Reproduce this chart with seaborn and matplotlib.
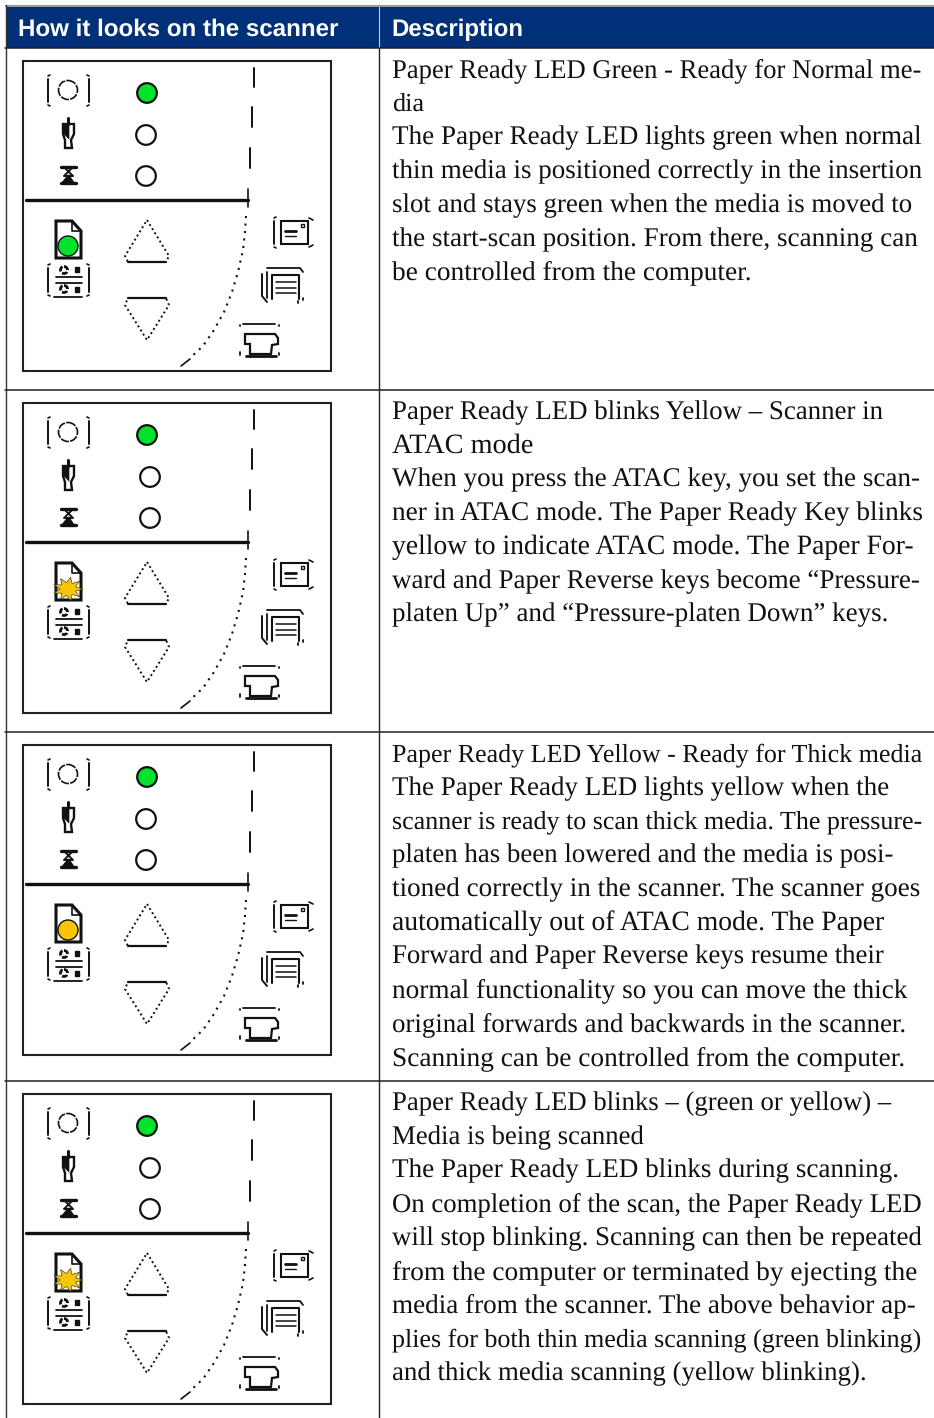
import matplotlib
matplotlib.use("Agg")
import matplotlib.pyplot as plt
import numpy as np
import pandas as pd
import seaborn as sns
from matplotlib.patches import Circle, Polygon, Rectangle

# table content
headers = ["How it looks on the scanner", "Description"]
row1_text = ["Paper Ready LED Green - Ready for Normal me-", "dia",
             "The Paper Ready LED lights green when normal",
             "thin media is positioned correctly in the insertion",
             "slot and stays green when the media is moved to",
             "the start-scan position. From there, scanning can",
             "be controlled from the computer."]
row2_text = ["Paper Ready LED blinks Yellow – Scanner in", "ATAC mode",
             "When you press the ATAC key, you set the scan-",
             "ner in ATAC mode. The Paper Ready Key blinks",
             "yellow to indicate ATAC mode. The Paper For-",
             "ward and Paper Reverse keys become “Pressure-",
             "platen Up” and “Pressure-platen Down” keys."]
row3_text = ["Paper Ready LED Yellow - Ready for Thick media",
             "The Paper Ready LED lights yellow when the",
             "scanner is ready to scan thick media. The pressure-",
             "platen has been lowered and the media is posi-",
             "tioned correctly in the scanner. The scanner goes",
             "automatically out of ATAC mode. The Paper",
             "Forward and Paper Reverse keys resume their",
             "normal functionality so you can move the thick",
             "original forwards and backwards in the scanner.",
             "Scanning can be controlled from the computer."]
row4_text = ["Paper Ready LED blinks – (green or yellow) –",
             "Media is being scanned",
             "The Paper Ready LED blinks during scanning.",
             "On completion of the scan, the Paper Ready LED",
             "will stop blinking. Scanning can then be repeated",
             "from the computer or terminated by ejecting the",
             "media from the scanner. The above behavior ap-",
             "plies for both thin media scanning (green blinking)",
             "and thick media scanning (yellow blinking)."]
rows_text = [row1_text, row2_text, row3_text, row4_text]
# state of the Paper Ready LED per row, and whether the middle LEDs are drawn blinking
paper_led = ["green", "blink", "yellow", "blink"]
blinking_row = [False, True, False, True]

NAVY = "#003078"
GREEN = "#00e32c"
YELLOW = "#f7c600"
LINE = "#111111"

# layout, in pixels
row_tops = [48, 390, 732, 1081]
panel_tops = [61, 403, 745, 1094]
# right end of each text line, the serif here runs wider than the original one
line_ends = [[921, 424, 919, 921, 911, 917, 751],
             [882, 533, 919, 921, 913, 919, 887],
             [921, 887, 920, 893, 918, 883, 882, 905, 905, 903],
             [890, 643, 898, 920, 921, 917, 914, 920, 866]]


def bracket(ax, x, y0, y1, side):
    ax.plot([x, x], [y0 + 3, y1 - 3], color=LINE, lw=1.4)
    ax.plot([x, x + 2 * side], [y0, y0 - 1], color=LINE, lw=1.2)
    ax.plot([x, x + 2 * side], [y1, y1 + 1], color=LINE, lw=1.2)


def burst(ax, cx, cy):
    angles = np.linspace(0, 2 * np.pi, 19)[:-1]
    radii = np.where(np.arange(18) % 2 == 0, 15, 8)
    pts = np.c_[cx + radii * np.cos(angles), cy + radii * np.sin(angles) * 0.8]
    ax.add_patch(Polygon(pts, closed=True, fc=YELLOW, ec="#222222", lw=0.4, zorder=4))


def draw_panel(ax, top, state, blinking):
    # everything below is relative to a panel frame at x=22
    d = top - 61
    Y = lambda v: v + d
    ax.add_patch(Rectangle((22.5, top), 308, 310, fc="white", ec="#222222", lw=1.5))

    # power icon
    ax.add_patch(Circle((68, Y(90)), 9.5, fc="none", ec=LINE, lw=1.2, ls=(0, (5, 0.8))))
    bracket(ax, 48, Y(76), Y(105), 1)
    bracket(ax, 89, Y(76), Y(105), -1)
    # plug icon
    ax.plot([68, 68], [Y(118), Y(124)], color=LINE, lw=2.2)
    ax.add_patch(Polygon([(63, Y(124)), (74, Y(124)), (74, Y(134)), (71, Y(140)), (72, Y(148)),
                          (65, Y(148)), (65, Y(140)), (63, Y(134))], closed=True,
                         fc="white", ec=LINE, lw=1.7))
    ax.add_patch(Polygon([(63, Y(124)), (69, Y(124)), (69, Y(139)), (64, Y(134))], closed=True,
                         fc=LINE, ec=LINE, lw=0.5))
    # hourglass icon
    ax.plot([61, 76], [Y(167), Y(167)], color=LINE, lw=2.4)
    ax.plot([61, 76], [Y(183), Y(183)], color=LINE, lw=2.4)
    ax.plot([64, 73, 64, 73], [Y(167), Y(176), Y(176), Y(167)], color=LINE, lw=1.4)
    ax.add_patch(Polygon([(68.5, Y(175)), (74, Y(183)), (62, Y(183))], closed=True, fc=LINE, ec=LINE, lw=1))

    # status LEDs
    dx = 4 if blinking else 0
    leds = pd.DataFrame({"x": [147, 146 + dx, 146 + dx], "y": [Y(93), Y(135), Y(176)],
                         "state": ["on", "off", "off"]})
    sns.scatterplot(data=leds, x="x", y="y", hue="state", palette={"on": GREEN, "off": "white"},
                    s=200, marker="o", edgecolor=LINE, linewidth=1.6, legend=False, zorder=3, ax=ax)

    # divider and the curved edge of the panel
    ax.plot([26, 248], [Y(200), Y(200)], color=LINE, lw=2.4)
    ax.plot([248, 248], [Y(189), Y(207)], color=LINE, lw=1.2)
    for x, y0, y1 in [(254, 68, 87), (252, 107, 127), (250, 148, 168)]:
        ax.plot([x, x], [Y(y0), Y(y1)], color=LINE, lw=1.4)
    curve_x = [246, 245, 243, 238, 232, 224, 214, 203, 190]
    curve_y = [216, 232, 250, 272, 292, 312, 330, 346, 358]
    ax.plot(curve_x, [Y(v) for v in curve_y], color=LINE, lw=1.5, ls=(0, (1, 2.6)))
    ax.plot([181, 190], [Y(366), Y(359)], color=LINE, lw=1.2)

    # paper forward / reverse keys
    ax.add_patch(Polygon([(147, Y(220)), (169, Y(256)), (166, Y(262)), (128, Y(262)), (125, Y(256))],
                         closed=True, fc="none", ec=LINE, lw=1.4, ls=(0, (1, 1.5))))
    ax.plot([128, 166], [Y(262), Y(262)], color=LINE, lw=1.6)
    ax.add_patch(Polygon([(128, Y(298)), (166, Y(298)), (169, Y(305)), (147, Y(340)), (125, Y(305))],
                         closed=True, fc="none", ec=LINE, lw=1.4, ls=(0, (1, 1.5))))
    ax.plot([128, 166], [Y(298), Y(298)], color=LINE, lw=1.6)

    # paper ready key
    ax.add_patch(Polygon([(56, Y(221)), (72, Y(221)), (81, Y(231)), (81, Y(258)), (56, Y(258))],
                         closed=True, fc="white", ec=LINE, lw=2.2))
    ax.plot([72, 72, 81], [Y(221), Y(231), Y(231)], color=LINE, lw=1.2)
    if state == "blink":
        burst(ax, 68, Y(247))
    else:
        led_color = GREEN if state == "green" else YELLOW
        ax.add_patch(Circle((68, Y(246)), 10, fc=led_color, ec=LINE, lw=1.0, zorder=4))

    # settings key
    bracket(ax, 48, Y(265), Y(295), 1)
    bracket(ax, 89, Y(265), Y(295), -1)
    ax.plot([56, 82], [Y(277), Y(277)], color=LINE, lw=1.3)
    ax.plot([56, 82], [Y(283), Y(283)], color=LINE, lw=1.3)
    ax.plot([54, 82], [Y(297), Y(297)], color=LINE, lw=1.3)
    ax.add_patch(Circle((64, Y(270)), 3.5, fc="none", ec=LINE, lw=2.0, ls=(0, (2, 0.7))))
    ax.add_patch(Circle((64, Y(289)), 3.5, fc="none", ec=LINE, lw=2.0, ls=(0, (2, 0.7))))
    ax.add_patch(Rectangle((75, Y(267)), 4, 5, fc=LINE, ec=LINE))
    ax.add_patch(Rectangle((75, Y(287)), 4, 5, fc=LINE, ec=LINE))

    # right hand icons
    ax.add_patch(Rectangle((281, Y(221)), 27, 23, fc="none", ec=LINE, lw=1.5))
    ax.plot([285, 296], [Y(231), Y(231)], color=LINE, lw=2.0)
    ax.plot([285, 296], [Y(236), Y(236)], color=LINE, lw=1.0)
    ax.add_patch(Rectangle((301, Y(224)), 3, 3, fc="none", ec=LINE, lw=1.0))
    bracket(ax, 274, Y(218), Y(247), 1)
    ax.plot([309, 313], [Y(218), Y(220)], color=LINE, lw=1.2)
    ax.plot([309, 313], [Y(247), Y(245)], color=LINE, lw=1.2)

    ax.plot([267, 300, 303], [Y(268), Y(268), Y(272)], color=LINE, lw=1.3)
    ax.plot([262, 262, 267], [Y(274), Y(296), Y(302)], color=LINE, lw=1.4)
    ax.plot([267, 267], [Y(272), Y(298)], color=LINE, lw=1.3)
    ax.plot([272, 272, 299, 299], [Y(299), Y(275), Y(275), Y(299)], color=LINE, lw=1.5)
    ax.plot([276, 296], [Y(282), Y(282)], color=LINE, lw=1.1)
    ax.plot([276, 296], [Y(288), Y(288)], color=LINE, lw=1.1)
    ax.plot([276, 296], [Y(293), Y(293)], color=LINE, lw=1.1)
    ax.plot([298, 298], [Y(301), Y(303)], color=LINE, lw=1.3)
    ax.plot([303, 303], [Y(298), Y(300)], color=LINE, lw=1.3)

    ax.plot([243, 275], [Y(324), Y(324)], color=LINE, lw=1.3)
    ax.add_patch(Polygon([(245, Y(334)), (275, Y(334)), (278, Y(338)), (278, Y(344)), (272, Y(345)),
                          (271, Y(354)), (250, Y(354)), (250, Y(344)), (245, Y(344))],
                         closed=True, fc="none", ec=LINE, lw=1.6))
    ax.plot([246, 276], [Y(356), Y(356)], color=LINE, lw=2.0)
    ax.plot([240, 240], [Y(352), Y(355)], color=LINE, lw=1.3)
    ax.plot([279, 279], [Y(353), Y(355)], color=LINE, lw=1.3)
    ax.plot([240, 240], [Y(325), Y(326)], color=LINE, lw=1.3)
    ax.plot([279, 279], [Y(325), Y(326)], color=LINE, lw=1.3)


def main():
    sns.set_theme(style="white")
    plt.rcParams["font.family"] = ["Liberation Serif", "DejaVu Sans"]
    # no hinting, so that the fitted font sizes scale smoothly
    plt.rcParams["text.hinting"] = "no_hinting"
    plt.rcParams["text.hinting_factor"] = 8
    fig = plt.figure(figsize=(9.34, 14.18), dpi=100)
    ax = fig.add_axes([0, 0, 1, 1])
    ax.set_xlim(0, 934)
    ax.set_ylim(1418, 0)
    ax.axis("off")

    # header band
    ax.add_patch(Rectangle((5, 5), 929, 1.5, fc="#9a9a9a", ec="none"))
    ax.add_patch(Rectangle((6, 6.5), 928, 41, fc=NAVY, ec="none"))
    ax.plot([379, 379], [6.5, 48], color="#c8d0e0", lw=0.8)
    ax.text(18, 36, headers[0], color="white", fontsize=17.4, fontweight="bold",
            family=["Liberation Sans"], va="baseline")
    ax.text(391, 36, headers[1], color="white", fontsize=17.3, fontweight="bold",
            family=["Liberation Sans"], va="baseline")

    # grid
    ax.plot([5.5, 5.5], [5, 1418], color="#333333", lw=1.0)
    ax.plot([379, 379], [48, 1418], color="#222222", lw=1.0)
    for y in row_tops:
        ax.plot([5, 934], [y, y], color="#222222", lw=1.1)

    renderer = fig.canvas.get_renderer()
    for r, (top, panel, lines) in enumerate(zip(row_tops, panel_tops, rows_text)):
        draw_panel(ax, panel, paper_led[r], blinking_row[r])
        for i, line in enumerate(lines):
            t = ax.text(392, top + 29 + i * 33.75, line, fontsize=19.4, color="#111111", va="baseline")
            # fit the line to the width it has in the original
            width = t.get_window_extent(renderer).width
            t.set_fontsize(19.4 * (line_ends[r][i] - 392) / width)

    ax.set_xlim(0, 934)
    ax.set_ylim(1418, 0)
    fig.savefig("out.png", dpi=100, facecolor="white")


if __name__ == "__main__":
    main()
